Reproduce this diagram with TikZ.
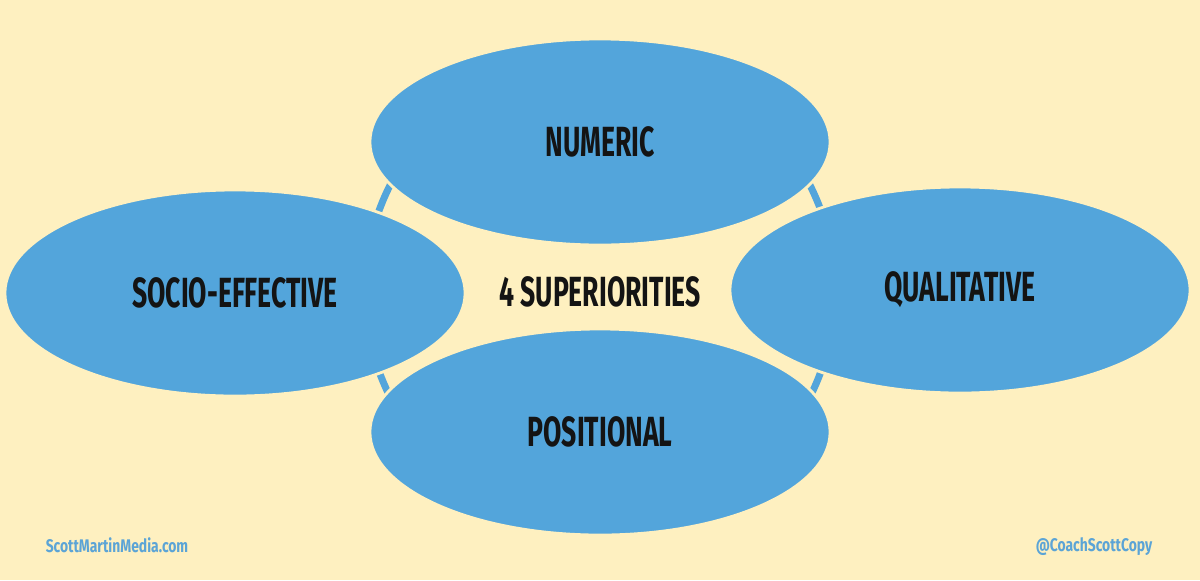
\documentclass[tikz,border=0pt]{standalone}
\usepackage{fontspec}
\newfontfamily\condfont{Fira Sans}[FakeStretch=0.63]
\newfontfamily\creditfont{Fira Sans}[FakeStretch=0.76]
\usepackage{xcolor}
\usetikzlibrary{shapes.geometric,positioning}
\definecolor{paper}{HTML}{FEF0C0}
\definecolor{skyblue}{HTML}{53A5DB}
\definecolor{linkblue}{HTML}{5BA4D6}
\definecolor{ink}{HTML}{141414}

\begin{document}
\begin{tikzpicture}[x=0.025cm,y=-0.025cm,
  oval/.style={ellipse,fill=skyblue,draw=paper,line width=2pt,minimum width=11.5cm,minimum height=5.15cm,
    font=\condfont\bfseries\fontsize{30}{32}\selectfont,text=ink},
  credit/.style={font=\creditfont\bfseries\fontsize{13}{15}\selectfont,text=linkblue}]
  \fill[paper] (0,0) rectangle (1200,580);
  % ring behind the four ovals
  \node[circle,draw=skyblue,line width=0.175cm,minimum size=11.75cm] (ring) at (600,291) {};
  \node[font=\condfont\bfseries\fontsize{30}{32}\selectfont,text=ink] (core) at (600,292) {4 SUPERIORITIES};
  \node[oval] (numeric) at (600,142) {NUMERIC};
  \node[oval] (socio) at (235,293) {SOCIO-EFFECTIVE};
  \node[oval] (quali) at (960,290) {QUALITATIVE};
  \node[oval] (posit) at (600,432) {POSITIONAL};
  \node[credit] (site) at (117,545) {ScottMartinMedia.com};
  \node[credit] (handle) at (1094,547) {@CoachScottCopy};
\end{tikzpicture}
\end{document}
